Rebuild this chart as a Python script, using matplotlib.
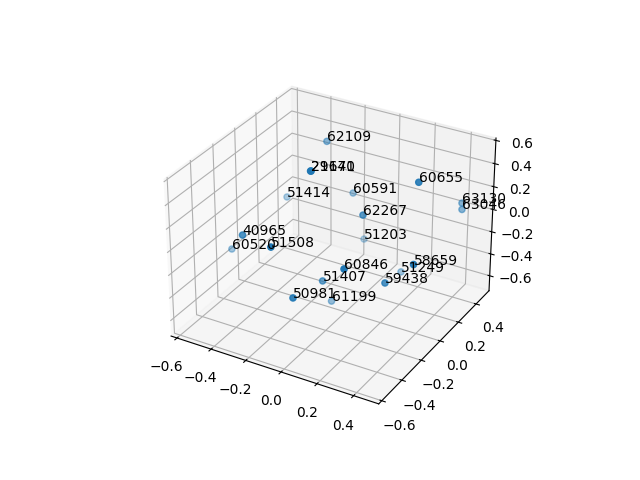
import matplotlib
matplotlib.use('Agg')
import matplotlib.pyplot as plt

labels = ['62109', '21670', '29141', '60655', '51414', '60591', '62267',
          '63130', '63046', '40965', '60520', '51508', '51203', '60846',
          '51407', '50981', '61199', '58659', '51249', '59438']
xs = [-0.272, -0.093, -0.095, 0.343, -0.461, -0.147, 0.078, 0.391, 0.399, -0.38,
      -0.608, -0.143, -0.094, 0.184, -0.038, -0.041, -0.078, 0.442, 0.163, 0.277]
ys = [0.286, -0.176, -0.177, 0.104, 0.205, 0.335, 0.032, 0.492, 0.478, -0.35,
      -0.099, -0.472, 0.358, -0.343, -0.164, -0.443, -0.006, -0.124, 0.283, -0.102]
zs = [0.451, 0.592, 0.592, 0.479, -0.062, 0.012, 0.138, 0.037, -0.006, 0.052,
      -0.368, 0.149, -0.399, 0.01, -0.341, -0.265, -0.671, -0.006, -0.524, -0.261]

fig = plt.figure()
ax = fig.add_subplot(projection='3d')
ax.scatter(xs, ys, zs)
for x, y, z, label in zip(xs, ys, zs, labels):
    ax.text(x, y, z, label)

ax.set_xlim(-0.635, 0.535)
ax.set_ylim(-0.63, 0.55)
ax.set_zlim(-0.738, 0.62)

fig.savefig('out.png')
